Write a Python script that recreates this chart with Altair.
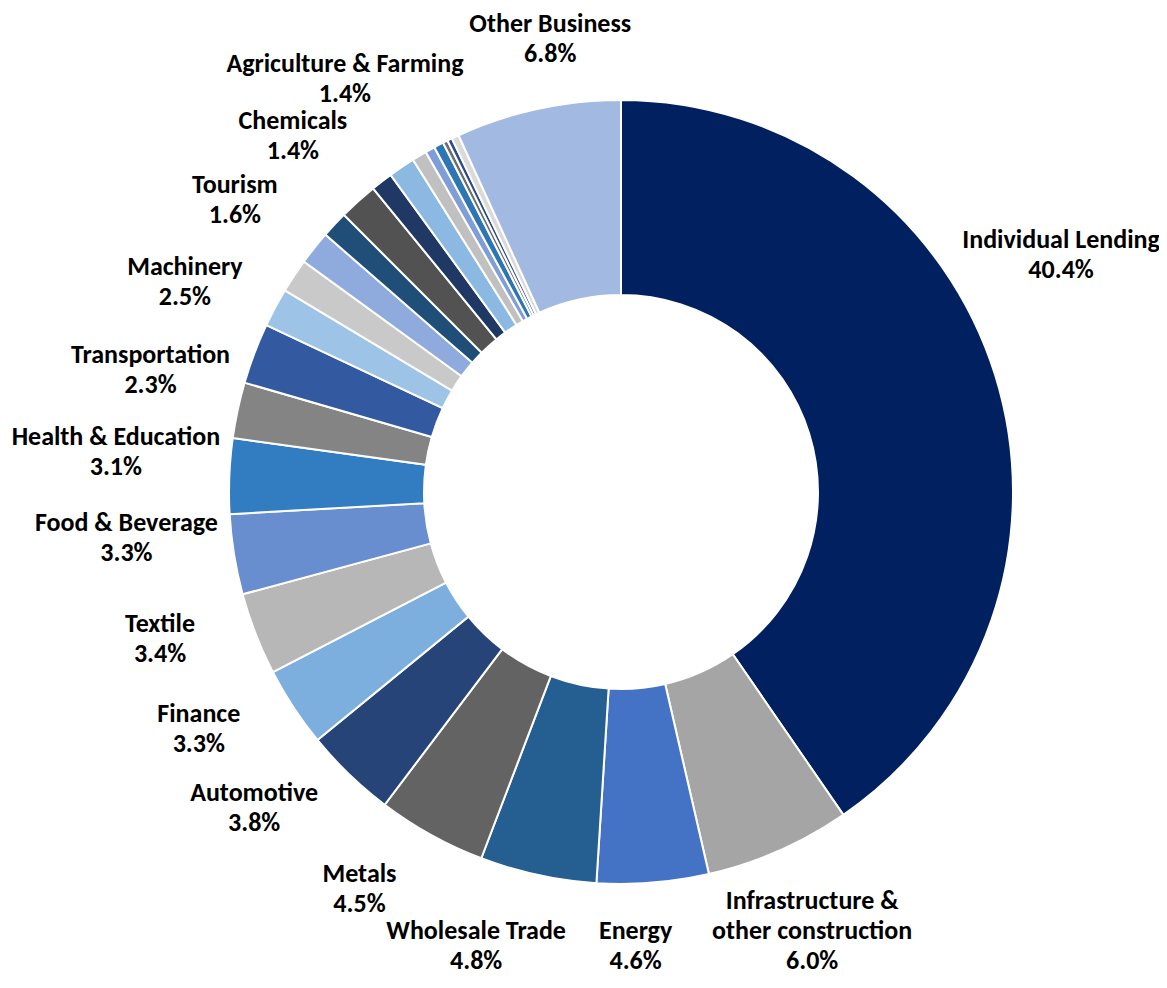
import math
import altair as alt
import pandas as pd

# ---------------- data ----------------
categories = [
    "Individual Lending", "Infrastructure & other construction", "Energy",
    "Wholesale Trade", "Metals", "Automotive", "Finance", "Textile",
    "Food & Beverage", "Health & Education", "Transportation", "Machinery",
    "Tourism", "Chemicals", "Agriculture & Farming",
    "Unlabelled 1", "Unlabelled 2", "Unlabelled 3", "Unlabelled 4",
    "Unlabelled 5", "Unlabelled 6", "Unlabelled 7", "Unlabelled 8",
    "Unlabelled 9", "Unlabelled 10",
    "Other Business",
]
shares = [
    40.4, 6.0, 4.6, 4.8, 4.5, 3.8, 3.3, 3.4, 3.3, 3.1, 2.3, 2.5,
    1.6, 1.4, 1.4,
    1.1, 1.6, 0.9, 1.1, 0.6, 0.4, 0.4, 0.2, 0.2, 0.3,
    6.8,
]
label_names = [
    "Individual Lending", "Infrastructure &\nother construction", "Energy",
    "Wholesale Trade", "Metals", "Automotive", "Finance", "Textile",
    "Food & Beverage", "Health & Education", "Transportation", "Machinery",
    "Tourism", "Chemicals", "Agriculture & Farming",
    None, None, None, None, None, None, None, None, None, None,
    "Other Business",
]
colors = [
    "#002060", "#A5A5A5", "#4472C4", "#255E91", "#636363", "#264478",
    "#7CAFDD", "#B7B7B7", "#698ED0", "#327DC2", "#848484", "#335AA1",
    "#9DC3E6", "#C9C9C9", "#8FAADC", "#1F4E79", "#525252", "#203864",
    "#8CB9E2", "#C0C0C0", "#7F9ED8", "#2E75B6", "#6E6E6E", "#2C4C8C",
    "#DADADA", "#A2B9E1",
]

# ---------------- layout constants ----------------
W, H = 1151, 968
CX, CY = 613, 484
R_OUT, R_IN = 392, 197
FS, LH = 26, 30
FONT = "Calibri, Carlito, Lato, sans-serif"
total = sum(shares)


def text_w(s):
    em = 0.0
    for ch in s:
        if ch == " ":
            em += 0.26
        elif ch in "iljI.,'":
            em += 0.27
        elif ch in "frt":
            em += 0.37
        elif ch in "mwMW":
            em += 0.85
        elif ch == "%":
            em += 0.80
        elif ch == "&":
            em += 0.70
        elif ch.isupper():
            em += 0.64
        elif ch.isdigit():
            em += 0.58
        else:
            em += 0.54
    return em * FS * 0.92


# ---------------- label placement (computed) ----------------
rows = []
cum = 0.0
placed = []
prev_angle = None
for i, (name, v) in enumerate(zip(label_names, shares)):
    mid = (cum + v / 2) / total * 360.0
    cum += v
    if name is None:
        continue
    text = f"{name}\n{v:.1f}%"
    lines = text.split("\n")
    n = len(lines)
    w = max(text_w(s) for s in lines)
    h = (n - 1) * LH + 20
    ang = mid + 3.0
    if prev_angle is not None and ang < prev_angle + 11.0:
        ang = prev_angle + 11.0
    prev_angle = ang
    a = math.radians(ang)
    s, c = math.sin(a), math.cos(a)
    ax, ay = (R_OUT + 12) * s, -(R_OUT + 12) * c
    x, y = ax + s * w / 2, ay - c * h / 2
    d = math.hypot(x, y)
    if d < 484:
        x, y = x / d * 484, y / d * 484
    x += CX
    y += CY

    xmin, xmax = w / 2, W - w / 2
    ymin, ymax = h / 2 + 6, H - h / 2 - 5

    def clamp(x, y):
        return min(max(x, xmin), xmax), min(max(y, ymin), ymax)

    x, y = clamp(x, y)

    def near_dist(x, y):
        nx = min(max(CX, x - w / 2), x + w / 2)
        ny = min(max(CY, y - h / 2), y + h / 2)
        return math.hypot(nx - CX, ny - CY)

    # keep the label box clear of the ring: slide outward sideways first, then vertically
    hstep = 1 if x > CX else -1
    vstep = -1 if y < CY else 1
    guard = 0
    while near_dist(x, y) < R_OUT + 10 and guard < 800:
        if xmin <= x + hstep <= xmax:
            x += hstep
        else:
            y += vstep
        guard += 1

    def overlaps(x, y):
        for (px, py, pw, ph) in placed:
            if abs(x - px) < (w + pw) / 2 + 4 and abs(y - py) < (h + ph) / 2 + 6:
                return True
        return False

    if c > 0 and abs(s) < 0.3:
        mv = (1, 0)
    elif c < 0 and abs(s) < 0.5:
        mv = (-1, 0)
    elif s < 0:
        mv = (0, -1)
    else:
        mv = (0, 1)
    guard = 0
    while overlaps(x, y) and guard < 400:
        x += mv[0]
        y += mv[1]
        guard += 1
    x, y = clamp(x, y)
    placed.append((x, y, w, h))

    # Vega puts the first line at the anchor; lift the anchor so the block is centred
    y_anchor = y - (n - 1) * LH / 2
    dx, dy = x - CX, y_anchor - CY
    th = math.degrees(math.atan2(dx, -dy)) % 360.0
    rows.append({"text": text, "lt": th / 360.0 * total, "lr": math.hypot(dx, dy)})

df = pd.DataFrame({"category": categories, "share": shares, "order": list(range(len(shares)))})
ldf = pd.DataFrame(rows)

theta_scale = alt.Scale(domain=[0, total], nice=False)

arcs = alt.Chart(df).mark_arc(
    outerRadius=R_OUT, innerRadius=R_IN, stroke="white", strokeWidth=2
).encode(
    theta=alt.Theta("share:Q", stack=True, scale=theta_scale),
    color=alt.Color("category:N", scale=alt.Scale(domain=categories, range=colors), legend=None),
    order=alt.Order("order:Q"),
    x=alt.value(CX),
    y=alt.value(CY),
)

labels = alt.Chart(ldf).mark_text(
    font=FONT, fontSize=FS, fontWeight="bold", lineBreak="\n", lineHeight=LH,
    align="center", baseline="middle", color="#000000",
).encode(
    theta=alt.Theta("lt:Q", stack=False, scale=theta_scale),
    radius=alt.Radius("lr:Q", scale=None),
    text="text:N",
    x=alt.value(CX),
    y=alt.value(CY),
)

chart = alt.layer(arcs, labels).properties(
    width=W, height=H, padding=0,
    autosize=alt.AutoSizeParams(type="none"),
).configure_view(stroke=None)

chart.save("out.html", embed_options={"renderer": "svg", "actions": False})
